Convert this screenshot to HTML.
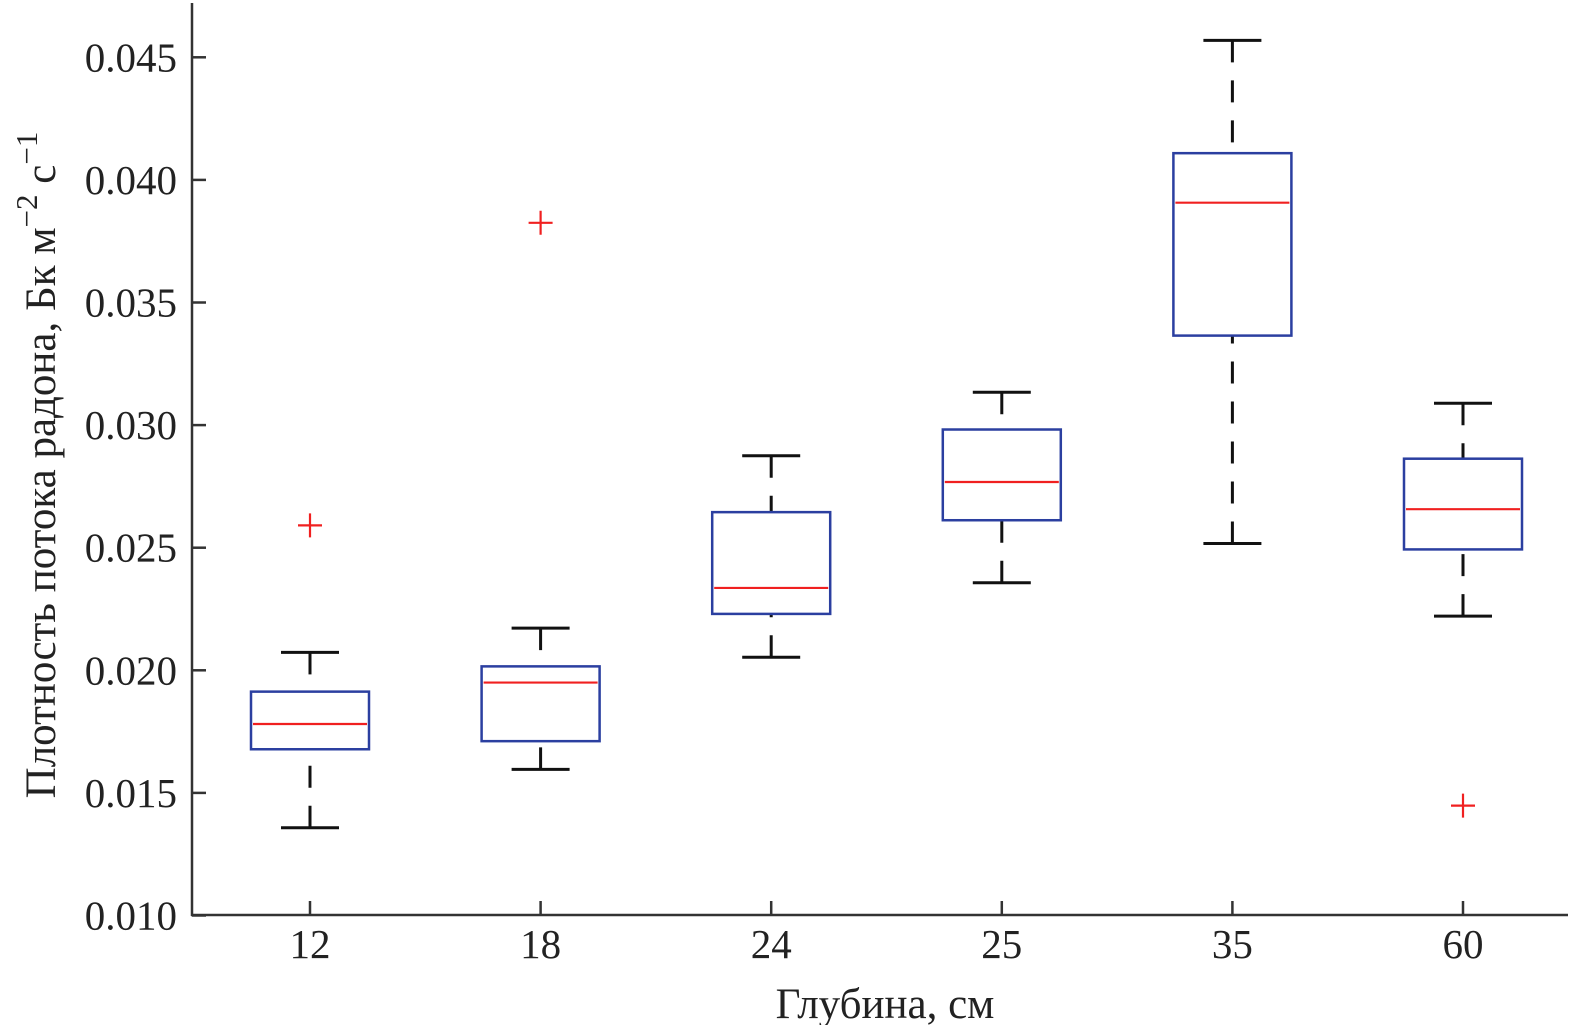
<!DOCTYPE html>
<html><head><meta charset="utf-8"><style>
body{margin:0;background:#fff;}
svg{display:block;font-family:"Liberation Serif",serif;}
</style></head><body>
<svg width="1580" height="1025">
<g id="plot"></g>
</svg>
<script>
const categories=["12","18","24","25","35","60"];
const whiskerLow=[0.01358,0.01596,0.02053,0.02357,0.02517,0.02221];
const q1=[0.01678,0.01711,0.0223,0.02612,0.03365,0.02493];
const medians=[0.01781,0.0195,0.02336,0.02768,0.03907,0.02657];
const q3=[0.01913,0.02016,0.02645,0.02982,0.04109,0.02863];
const whiskerHigh=[0.02073,0.02172,0.02875,0.03134,0.04569,0.03089];
const outlierCat=[0,1,5];
const outlierVal=[0.02591,0.03825,0.01448];
const yTicks=[0.010,0.015,0.020,0.025,0.030,0.035,0.040,0.045];
const yTickLabels=["0.010","0.015","0.020","0.025","0.030","0.035","0.040","0.045"];

const NS="http://www.w3.org/2000/svg";
const g=document.getElementById('plot');
const X0=192,Y0=915,XR=1568,YT=3;
function y(v){return 57.3+(0.045-v)/0.005*122.6;}
function x(i){return 310+i*230.6;}
function el(t,a){const e=document.createElementNS(NS,t);for(const k in a)e.setAttribute(k,a[k]);g.appendChild(e);return e;}
let e;
e=el('line',{x1:X0,y1:YT,x2:X0,y2:Y0+1,stroke:'#333','stroke-width':2.5});


e=el('line',{x1:X0-1,y1:Y0,x2:XR,y2:Y0,stroke:'#333','stroke-width':2.5});


yTicks.forEach((v,i)=>{
 e=el('line',{x1:X0,y1:y(v),x2:X0+14,y2:y(v),stroke:'#333','stroke-width':2.5});
 
 
 e=el('text',{x:177,y:y(v)+14,'text-anchor':'end','font-size':41,fill:'#222'});
 e.textContent=yTickLabels[i];
 
 
});
categories.forEach((c,i)=>{
 const cx=x(i);
 e=el('line',{x1:cx,y1:Y0,x2:cx,y2:Y0-14,stroke:'#333','stroke-width':2.5});
 
 
 e=el('text',{x:cx,y:958,'text-anchor':'middle','font-size':41,fill:'#222'});
 e.textContent=c;
 
 
 e=el('line',{x1:cx,y1:y(whiskerHigh[i]),x2:cx,y2:y(q3[i]),stroke:'#111','stroke-width':3,'stroke-dasharray':'22,18'});
 
 
 e=el('line',{x1:cx,y1:y(whiskerLow[i]),x2:cx,y2:y(q1[i]),stroke:'#111','stroke-width':3,'stroke-dasharray':'22,18'});
 
 
 [whiskerHigh[i],whiskerLow[i]].forEach(v=>{
  e=el('line',{x1:cx-29,y1:y(v),x2:cx+29,y2:y(v),stroke:'#111','stroke-width':3});
  
  
 });
 e=el('rect',{x:cx-59,y:y(q3[i]),width:118,height:y(q1[i])-y(q3[i]),fill:'none',stroke:'#2b3fa0','stroke-width':2.5});
 
 
 e=el('line',{x1:cx-57,y1:y(medians[i]),x2:cx+57,y2:y(medians[i]),stroke:'#f02020','stroke-width':2.2});
 
 
});
outlierCat.forEach((ci,k)=>{
 const cx=x(ci),cy=y(outlierVal[k]);
 e=el('path',{d:`M${cx-12},${cy}H${cx+12}M${cx},${cy-12}V${cy+12}`,stroke:'#f02020','stroke-width':2.2,fill:'none'});
 
 
});
e=el('text',{x:885,y:1018,'text-anchor':'middle','font-size':43,fill:'#222'});
e.textContent='Глубина, см';


e=el('text',{transform:'translate(55,465) rotate(-90)','text-anchor':'middle','font-size':43,fill:'#222'});
e.innerHTML='Плотность потока радона, Бк м<tspan dy="-18" font-size="31">−2</tspan><tspan dy="18"> с</tspan><tspan dy="-18" font-size="31">−1</tspan>';


</script>
</body></html>
